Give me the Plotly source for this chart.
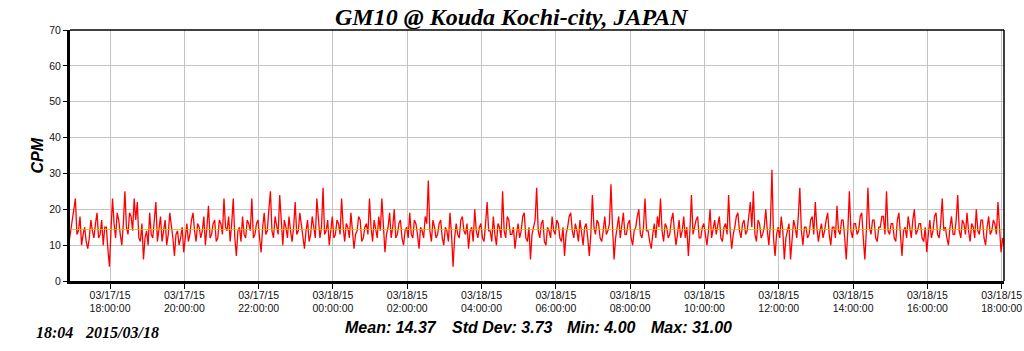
import plotly.graph_objects as go
import pandas as pd

# ---- data (2.5-minute samples, CPM) ----
start_time = "2015-03-17 16:54"
step = "150s"
cpm = [
    11, 14, 16, 20, 23, 13, 14, 18, 10, 13, 15, 11, 9, 12, 17, 14, 12, 16, 19, 12, 13, 17, 10, 15,
    15, 9, 4, 14, 23, 16, 12, 19, 17, 13, 10, 16, 25, 15, 13, 19, 18, 14, 23, 17, 22, 12, 11, 16,
    6, 12, 14, 10, 19, 13, 12, 17, 22, 11, 15, 18, 11, 14, 17, 10, 13, 19, 16, 12, 7, 13, 14, 10,
    12, 15, 8, 13, 16, 11, 13, 17, 19, 14, 11, 16, 15, 12, 14, 18, 10, 15, 21, 12, 13, 16, 17, 11,
    12, 17, 16, 13, 23, 15, 14, 18, 11, 16, 23, 12, 7, 14, 15, 11, 18, 13, 12, 17, 16, 14, 23, 12,
    13, 16, 17, 12, 8, 15, 19, 13, 14, 20, 25, 14, 12, 18, 16, 13, 24, 15, 10, 17, 15, 12, 18, 14,
    11, 15, 22, 13, 14, 19, 16, 12, 9, 14, 17, 11, 13, 18, 15, 12, 23, 16, 12, 15, 26, 13, 14, 17,
    10, 14, 18, 12, 13, 17, 16, 13, 23, 15, 11, 16, 15, 12, 19, 14, 9, 13, 14, 18, 17, 11, 12, 15,
    16, 13, 23, 15, 11, 17, 14, 12, 18, 14, 23, 16, 8, 13, 15, 19, 12, 15, 20, 12, 13, 16, 17, 12,
    10, 14, 15, 12, 19, 13, 12, 17, 16, 13, 9, 15, 14, 12, 18, 16, 28, 14, 11, 17, 15, 12, 13, 16,
    17, 12, 10, 15, 14, 11, 19, 13, 4, 12, 16, 13, 12, 17, 18, 14, 13, 16, 9, 14, 15, 11, 20, 14,
    12, 15, 16, 12, 11, 16, 22, 14, 14, 11, 18, 13, 10, 16, 15, 12, 25, 14, 12, 18, 17, 13, 13, 15,
    9, 13, 16, 12, 14, 18, 19, 12, 11, 15, 6, 13, 15, 17, 26, 14, 12, 16, 17, 11, 10, 15, 14, 12,
    18, 14, 13, 17, 16, 12, 11, 15, 7, 13, 15, 18, 19, 14, 12, 16, 14, 11, 17, 13, 10, 15, 16, 12,
    7, 13, 24, 15, 13, 17, 16, 12, 11, 14, 18, 13, 14, 16, 27, 15, 6, 12, 15, 18, 12, 16, 19, 13,
    13, 16, 17, 12, 10, 14, 15, 18, 20, 13, 12, 15, 23, 14, 14, 11, 9, 13, 16, 12, 18, 15, 23, 14,
    11, 16, 15, 12, 13, 17, 19, 14, 10, 13, 17, 12, 14, 18, 12, 15, 7, 14, 24, 13, 15, 17, 18, 12,
    12, 15, 16, 13, 10, 14, 20, 12, 14, 17, 13, 16, 18, 12, 11, 15, 16, 13, 24, 14, 9, 13, 15, 18,
    19, 14, 12, 16, 17, 13, 14, 18, 22, 15, 25, 13, 11, 17, 16, 12, 13, 15, 20, 14, 10, 16, 31, 12,
    7, 13, 15, 12, 18, 14, 6, 12, 14, 16, 6, 13, 17, 15, 12, 18, 26, 14, 10, 15, 15, 12, 13, 17,
    18, 13, 22, 15, 11, 14, 16, 12, 14, 17, 19, 13, 10, 15, 15, 12, 21, 14, 13, 17, 17, 12, 6, 14,
    25, 14, 12, 16, 16, 13, 14, 18, 19, 12, 6, 14, 26, 15, 13, 17, 17, 12, 11, 15, 15, 18, 18, 13,
    25, 14, 13, 16, 16, 12, 11, 17, 19, 13, 7, 14, 15, 12, 18, 15, 12, 17, 20, 13, 14, 16, 16, 12,
    11, 15, 8, 13, 17, 12, 14, 18, 19, 13, 12, 16, 23, 14, 15, 12, 10, 15, 18, 13, 13, 17, 24, 14,
    12, 17, 16, 13, 19, 14, 11, 16, 15, 12, 20, 14, 13, 17, 17, 12, 10, 15, 18, 13, 14, 17, 16, 13,
    22, 15, 8, 12, 10,
]
times = pd.date_range(start_time, periods=len(cpm), freq=step)

mean_value = 14.37
std_value = 3.73
min_value = 4.00
max_value = 31.00

tick_times = ["2015-03-17 18:00", "2015-03-17 20:00", "2015-03-17 22:00",
              "2015-03-18 00:00", "2015-03-18 02:00", "2015-03-18 04:00",
              "2015-03-18 06:00", "2015-03-18 08:00", "2015-03-18 10:00",
              "2015-03-18 12:00", "2015-03-18 14:00", "2015-03-18 16:00",
              "2015-03-18 18:00"]
tick_labels = ["03/17/15<br>18:00:00", "03/17/15<br>20:00:00", "03/17/15<br>22:00:00",
               "03/18/15<br>00:00:00", "03/18/15<br>02:00:00", "03/18/15<br>04:00:00",
               "03/18/15<br>06:00:00", "03/18/15<br>08:00:00", "03/18/15<br>10:00:00",
               "03/18/15<br>12:00:00", "03/18/15<br>14:00:00", "03/18/15<br>16:00:00",
               "03/18/15<br>18:00:00"]
y_ticks = [0, 10, 20, 30, 40, 50, 60, 70]

title_text = "GM10 @ Kouda Kochi-city, JAPAN"
stamp_time = "18:04"
stamp_date = "2015/03/18"

# ---- figure ----
fig = go.Figure()
fig.add_trace(go.Scatter(x=times, y=cpm, mode="lines",
                         line=dict(color="#FF0000", width=1.3), hoverinfo="skip"))
fig.add_trace(go.Scatter(x=[times[0], times[-1]], y=[mean_value, mean_value], mode="lines",
                         line=dict(color="#C8C800", width=1), opacity=0.8, hoverinfo="skip"))

L, R, T, B = 70, 20, 30, 70
W, H = 1024, 351
pw = W - L - R

fig.update_layout(
    width=W, height=H,
    margin=dict(l=L, r=R, t=T, b=B, autoexpand=False),
    paper_bgcolor="white", plot_bgcolor="white",
    showlegend=False,
    font=dict(family="Liberation Sans, Arial", size=11, color="black"),
)
fig.update_xaxes(
    range=["2015-03-17 16:55:20", "2015-03-18 18:03:45"],
    tickmode="array", tickvals=tick_times, ticktext=tick_labels,
    showgrid=True, gridcolor="#C4C4C4", gridwidth=1,
    ticks="outside", ticklen=5, tickcolor="black", tickwidth=1,
    showline=True, linecolor="black", linewidth=3,
    tickfont=dict(size=10.5, family="Liberation Sans, Arial", color="#111"),
    ticklabelstandoff=-3,
    zeroline=False, automargin=False,
)
fig.update_yaxes(
    range=[0, 70], tickmode="array", tickvals=y_ticks,
    showgrid=True, gridcolor="#C4C4C4", gridwidth=1,
    ticks="outside", ticklen=4, tickcolor="black", tickwidth=1,
    showline=True, linecolor="black", linewidth=3,
    tickfont=dict(size=10.5, family="Liberation Sans, Arial", color="#111"),
    zeroline=False, automargin=False,
)
# top and right thin frame lines
fig.add_shape(type="line", xref="paper", yref="paper", x0=0, x1=1, y0=1, y1=1,
              line=dict(color="black", width=1.5))
fig.add_shape(type="line", xref="paper", yref="paper", x0=1, x1=1, y0=0, y1=1,
              line=dict(color="black", width=1.5))

def px_x(p):
    return (p - L) / pw

ann = []
ann.append(dict(text=f"<b><i>{title_text}</i></b>", xref="paper", yref="paper",
                x=px_x(512), y=1, yshift=13, xanchor="center", yanchor="middle",
                showarrow=False,
                font=dict(family="Liberation Serif, Times New Roman", size=24, color="black")))
ann.append(dict(text="<b><i>CPM</i></b>", xref="paper", yref="paper",
                x=0, xshift=-33, y=0.5, xanchor="center", yanchor="middle",
                textangle=-90, showarrow=False,
                font=dict(family="Liberation Sans, Arial", size=16, color="black")))
stats = [(f"Mean: {mean_value:.2f}", 343), (f"Std Dev: {std_value:.2f}", 450),
         (f"Min: {min_value:.2f}", 565), (f"Max: {max_value:.2f}", 649)]
for txt, px in stats:
    ann.append(dict(text=f"<b><i>{txt}</i></b>", xref="paper", yref="paper",
                    x=px_x(px), y=0, yshift=-46, xanchor="left", yanchor="middle",
                    showarrow=False,
                    font=dict(family="Liberation Sans, Arial", size=16, color="black")))
ann.append(dict(text=f"<b><i>{stamp_time}</i></b>", xref="paper", yref="paper",
                x=px_x(34), y=0, yshift=-51, xanchor="left", yanchor="middle",
                showarrow=False,
                font=dict(family="Liberation Serif, Times New Roman", size=16, color="black")))
ann.append(dict(text=f"<b><i>{stamp_date}</i></b>", xref="paper", yref="paper",
                x=px_x(83), y=0, yshift=-51, xanchor="left", yanchor="middle",
                showarrow=False,
                font=dict(family="Liberation Serif, Times New Roman", size=16, color="black")))
fig.update_layout(annotations=ann)

fig.write_html("out.html")
